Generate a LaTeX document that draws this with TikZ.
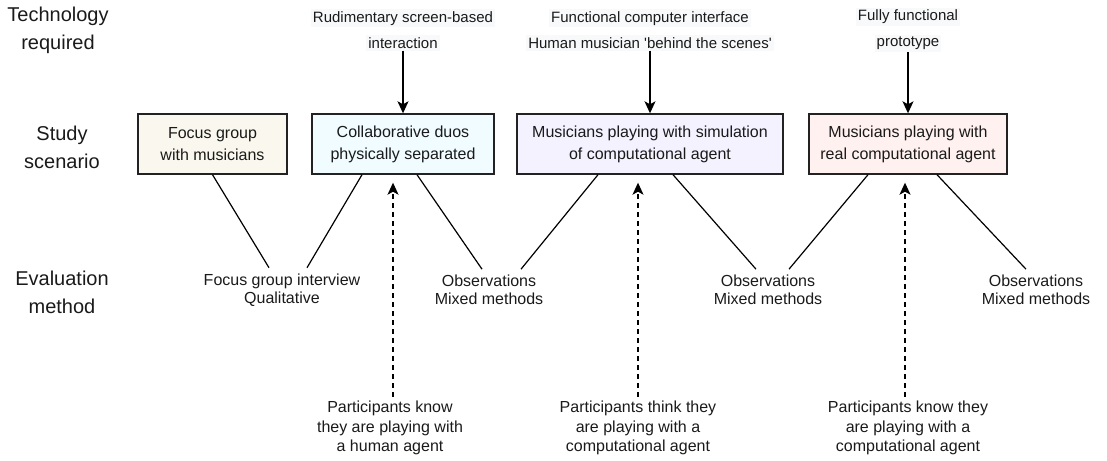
\documentclass[tikz,border=0pt]{standalone}
\usepackage{fontspec}
\setmainfont{Liberation Sans}
\usetikzlibrary{arrows.meta}

\definecolor{boxline}{RGB}{34,34,34}
\definecolor{inktext}{RGB}{26,26,26}
\definecolor{labelbg}{RGB}{248,249,250}
\definecolor{fillfocus}{RGB}{249,247,238}
\definecolor{fillduo}{RGB}{240,252,255}
\definecolor{fillsim}{RGB}{244,242,255}
\definecolor{fillreal}{RGB}{255,241,239}

% light highlight behind each line of the technology labels
\newcommand\techline[1]{{\setlength\fboxsep{2pt}\colorbox{labelbg}{#1}}}

\begin{document}
\begin{tikzpicture}[x=1pt,y=-1pt,
  text=inktext,
  rowlabel/.style={align=center,inner sep=0pt,font=\fontsize{20}{28}\selectfont},
  scenario/.style={draw=boxline,line width=1.4pt,minimum height=60pt,
    align=center,inner sep=0pt,font=\fontsize{16}{22}\selectfont},
  techlabel/.style={align=center,inner sep=0pt,font=\fontsize{15}{26}\selectfont},
  methodlabel/.style={align=center,inner xsep=0pt,inner ysep=6pt,
    font=\fontsize{16}{17.5}\selectfont},
  outcomelabel/.style={align=center,inner xsep=0pt,inner ysep=4pt,
    font=\fontsize{16}{19.5}\selectfont},
  link/.style={line width=1.2pt,draw=black},
  feeds/.style={line width=1.3pt,draw=black,
    -{Stealth[length=12pt,width=11pt,inset=3pt]}},
  aware/.style={feeds,dash pattern=on 5pt off 4pt}]

\useasboundingbox (0,0) rectangle (1107,460);

% row headings
\node[rowlabel] (hTech)  at (58,30)  {Technology\\required};
\node[rowlabel] (hStudy) at (62,147) {Study\\scenario};
\node[rowlabel] (hEval)  at (62,292) {Evaluation\\method};

% study scenarios
\node[scenario,fill=fillfocus,minimum width=149pt] (b1) at (212.5,144)
  {Focus group\\with musicians};
\node[scenario,fill=fillduo,minimum width=182pt] (b2) at (403,144)
  {Collaborative duos\\physically separated};
\node[scenario,fill=fillsim,minimum width=266pt] (b3) at (650,144)
  {Musicians playing with simulation\\of computational agent};
\node[scenario,fill=fillreal,minimum width=198pt] (b4) at (908,144)
  {Musicians playing with\\real computational agent};

% technology required
\node[techlabel] (t2) at (403,30)
  {\techline{Rudimentary screen-based}\\\techline{interaction}};
\node[techlabel] (t3) at (650,30)
  {\techline{Functional computer interface}\\
   \techline{Human musician \textquotesingle behind the scenes\textquotesingle}};
\node[techlabel] (t4) at (908,30)
  {\techline{Fully functional}\\\techline{prototype}};

\draw[feeds] (t2) -- (b2);
\draw[feeds] (t3) -- (b3);
\draw[feeds] (t4) -- (b4);

% evaluation methods
\node[methodlabel] (e1) at (282,290) {Focus group interview\\Qualitative};
\node[methodlabel] (e2) at (489,290) {Observations\\Mixed methods};
\node[methodlabel] (e3) at (768,290) {Observations\\Mixed methods};
\node[methodlabel] (e4) at (1036,290) {Observations\\Mixed methods};

\draw[link] (b1.south) -- ([xshift=-13pt]e1.north);
\draw[link] ([xshift=-41pt]b2.south) -- ([xshift=25pt]e1.north);
\draw[link] ([xshift=14pt]b2.south) -- ([xshift=-7pt]e2.north);
\draw[link] ([xshift=-52pt]b3.south) -- ([xshift=32pt]e2.north);
\draw[link] ([xshift=23pt]b3.south) -- ([xshift=-12pt]e3.north);
\draw[link] ([xshift=-40pt]b4.south) -- ([xshift=21pt]e3.north);
\draw[link] ([xshift=29pt]b4.south) -- ([xshift=-10pt]e4.north);

% what participants know about their partner
\node[outcomelabel] (p1) at (390,428)
  {Participants know\\they are playing with\\a human agent};
\node[outcomelabel] (p2) at (638,428)
  {Participants think they\\are playing with a\\computational agent};
\node[outcomelabel] (p3) at (908,428)
  {Participants know they\\are playing with a\\computational agent};

\draw[aware,shorten >=8pt] ([xshift=3pt]p1.north) -- ([xshift=3pt]p1.north |- b2.south);
\draw[aware,shorten >=8pt] (p2.north) -- (p2.north |- b3.south);
\draw[aware,shorten >=8pt] ([xshift=-3pt]p3.north) -- ([xshift=-3pt]p3.north |- b4.south);

\end{tikzpicture}
\end{document}
